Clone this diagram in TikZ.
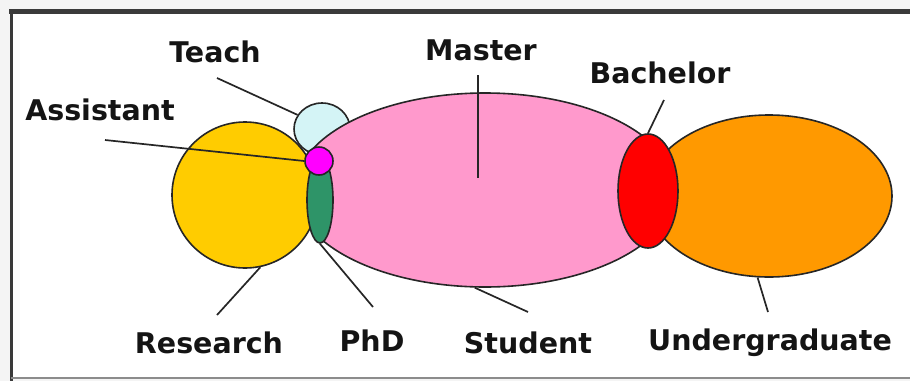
\documentclass[tikz,border=0pt]{standalone}
\usepackage{fontspec}
\setmainfont{DejaVu Sans}
\usetikzlibrary{shapes.geometric}
\definecolor{research}{HTML}{FFCC00}
\definecolor{student}{HTML}{FF99CC}
\definecolor{under}{HTML}{FF9900}
\definecolor{bach}{HTML}{FF0000}
\definecolor{teach}{HTML}{D4F4F6}
\definecolor{assist}{HTML}{FF00FF}
\definecolor{phd}{HTML}{2E9468}
\definecolor{outside}{HTML}{F4F4F4}
\definecolor{frametop}{HTML}{3A3A3A}
\begin{document}
\begin{tikzpicture}[x=1pt,y=-1pt,
  blob/.style={draw=black!85,line width=1.6pt},
  lbl/.style={font=\fontsize{28.5}{31}\selectfont\bfseries,inner sep=0pt,text=black!92},
  leader/.style={draw=black!85,line width=1.7pt}]
\useasboundingbox (0,0) rectangle (910,381);
\fill[outside] (0,0) rectangle (910,381);
\fill[white] (11,11) rectangle (911,377);
\draw[frametop,line width=5pt] (9,11.5) -- (911,11.5);
\draw[frametop,line width=3pt] (11,9) -- (11,381);
\draw[black!45,line width=2pt] (11,377.5) -- (911,377.5);
% shapes
\node[blob,fill=teach,ellipse,minimum width=56pt,minimum height=52pt,inner sep=0pt] (teach) at (322,129) {};
\node[blob,fill=student,ellipse,minimum width=380pt,minimum height=194pt,inner sep=0pt] (student) at (485,190) {};
\node[blob,fill=research,circle,minimum size=146pt,inner sep=0pt] (research) at (245,195) {};
\node[blob,fill=under,ellipse,minimum width=246pt,minimum height=162pt,inner sep=0pt] (under) at (769,196) {};
\node[blob,fill=bach,ellipse,minimum width=60pt,minimum height=114pt,inner sep=0pt] (bach) at (648,191) {};
\node[blob,fill=phd,ellipse,minimum width=26pt,minimum height=86pt,inner sep=0pt] (phd) at (320,200) {};
\node[blob,fill=assist,circle,minimum size=28pt,inner sep=0pt] (assist) at (319,161) {};
% labels
\node[lbl] (lteach) at (215,52) {Teach};
\node[lbl] (lassist) at (100,110) {Assistant};
\node[lbl] (lmaster) at (481,50) {Master};
\node[lbl] (lbach) at (660,73) {Bachelor};
\node[lbl] (lresearch) at (209,343) {Research};
\node[lbl] (lphd) at (372,341) {PhD};
\node[lbl] (lstudent) at (528,343) {Student};
\node[lbl] (lunder) at (770,343) {Undergraduate};
% leader ends
\coordinate (tA) at (217,78);
\coordinate (aA) at (105,140);
\coordinate (mA) at (478,75);
\coordinate (mB) at (478,178);
\coordinate (bA) at (664,100);
\coordinate (rA) at (217,315);
\coordinate (pA) at (373,307);
\coordinate (sA) at (528,312);
\coordinate (uA) at (768,312);
\draw[leader] (tA) -- (teach.150);
\draw[leader] (aA) -- (assist.west);
\draw[leader] (mA) -- (mB);
\draw[leader] (bA) -- (bach.north);
\draw[leader] (rA) -- (research.-78);
\draw[leader] (pA) -- (phd.south);
\draw[leader] (sA) -- (student.-96);
\draw[leader] (uA) -- (under.-98);
\end{tikzpicture}
\end{document}
